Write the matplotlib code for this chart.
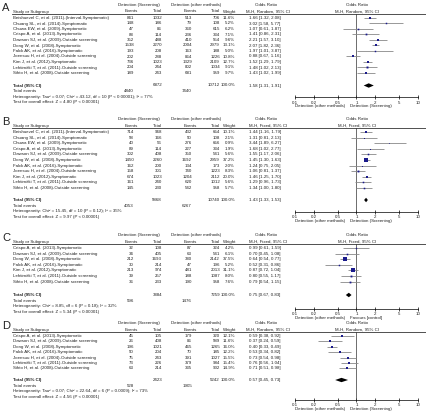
import matplotlib
matplotlib.use('Agg')
import matplotlib.pyplot as plt
import numpy as np

plt.rcParams['font.family'] = ['Liberation Sans', 'DejaVu Sans']

# ---------------- panel A ----------------
a_studies = ["Beishuevel C, et al. (2011)-(Interval.Symptomatic)",
             "Chuang SL, et al. (2014)-Symptomatic",
             "Chuwa EW, et al. (2009)-Symptomatic",
             "Crispo A, et al. (2013)-Symptomatic",
             "Dawson SJ, et al. (2009)-Outside screening",
             "Dong W, et al. (2008)-Symptomatic",
             "Falck AK, et al. (2016)-Symptomatic",
             "Joensuu H, et al. (2004)-Outside screening",
             "Kim J, et al. (2012)-Symptomatic",
             "Lehtimäki T, et al. (2011)-Outside screening",
             "Sihto H, et al. (2008)-Outside screening"]
a_ev_scr = [841, 148, 47, 88, 352, 1538, 193, 202, 736, 204, 189]
a_tot_scr = [1032, 186, 86, 114, 488, 2270, 208, 288, 1023, 244, 243]
a_ev_oth = [513, 79, 360, 236, 410, 2004, 163, 864, 1329, 802, 681]
a_tot_oth = [706, 108, 615, 334, 554, 2979, 188, 1226, 2109, 1034, 959]
a_weight = [11.6, 5.2, 6.2, 7.1, 9.6, 13.1, 5.0, 10.8, 12.7, 9.1, 9.7]
a_or = [1.66, 3.02, 1.07, 1.41, 2.21, 2.07, 1.97, 0.88, 1.52, 1.48, 1.43]
a_lo = [1.32, 1.58, 0.61, 0.86, 1.57, 1.82, 1.01, 0.67, 1.29, 1.02, 1.02]
a_hi = [2.08, 5.77, 1.87, 2.31, 3.10, 2.36, 3.87, 1.16, 1.79, 2.13, 1.99]
a_total = [6872, 10712, 1.58, 1.31, 1.91]
a_events = [4840, 7440]
a_het = "Heterogeneity: Tau² = 0.07; Chi² = 43.12, df = 10 (P < 0.00001); I² = 77%"
a_test = "Test for overall effect: Z = 4.80 (P < 0.00001)"

# ---------------- panel B ----------------
b_studies = a_studies
b_ev_scr = [714, 58, 40, 89, 302, 1450, 162, 158, 674, 161, 145]
b_tot_scr = [968, 166, 56, 114, 408, 2260, 200, 301, 1023, 240, 230]
b_ev_oth = [432, 50, 276, 227, 350, 1692, 134, 740, 1204, 620, 542]
b_tot_oth = [654, 108, 656, 334, 541, 2959, 173, 1223, 2112, 1012, 958]
b_weight = [10.1, 2.1, 0.9, 1.9, 5.6, 37.2, 2.0, 8.3, 20.0, 5.6, 5.7]
b_or = [1.44, 1.31, 3.44, 1.68, 1.55, 1.45, 1.24, 1.06, 1.46, 1.29, 1.34]
b_lo = [1.16, 0.81, 1.89, 1.02, 1.17, 1.30, 0.75, 0.81, 1.25, 0.96, 1.00]
b_hi = [1.79, 2.13, 6.27, 2.77, 2.06, 1.63, 2.05, 1.37, 1.70, 1.73, 1.80]
b_total = [5868, 10740, 1.43, 1.33, 1.53]
b_events = [4053, 6267]
b_het = "Heterogeneity: Chi² = 15.45, df = 10 (P = 0.12); I² = 35%"
b_test = "Test for overall effect: Z = 9.97 (P < 0.00001)"

# ---------------- panel C ----------------
c_studies = ["Crispo A, et al. (2013)-Symptomatic",
             "Dawson SJ, et al. (2009)-Outside screening",
             "Dong W, et al. (2008)-Symptomatic",
             "Falck AK, et al. (2016)-Symptomatic",
             "Kim J, et al. (2012)-Symptomatic",
             "Lehtimäki T, et al. (2011)-Outside screening",
             "Sihto H, et al. (2008)-Outside screening"]
c_ev_scr = [32, 34, 212, 30, 213, 39, 36]
c_tot_scr = [108, 405, 1693, 214, 974, 257, 233]
c_ev_oth = [87, 63, 380, 47, 481, 188, 190]
c_tot_oth = [324, 541, 2142, 196, 2013, 1087, 958]
c_weight = [4.2, 6.1, 37.5, 5.2, 31.1, 8.0, 7.6]
c_or = [0.99, 0.70, 0.64, 0.52, 0.87, 0.80, 0.79]
c_lo = [0.61, 0.45, 0.54, 0.31, 0.72, 0.55, 0.54]
c_hi = [1.59, 1.08, 0.77, 0.86, 1.04, 1.17, 1.15]
c_total = [3884, 7259, 0.75, 0.67, 0.83]
c_events = [596, 1476]
c_het = "Heterogeneity: Chi² = 8.85, df = 6 (P = 0.18); I² = 32%"
c_test = "Test for overall effect: Z = 5.34 (P < 0.00001)"

# ---------------- panel D ----------------
d_studies = ["Crispo A, et al. (2013)-Symptomatic",
             "Dawson SJ, et al. (2009)-Outside screening",
             "Dong W, et al. (2008)-Symptomatic",
             "Falck AK, et al. (2016)-Symptomatic",
             "Joensuu H, et al. (2004)-Outside screening",
             "Lehtimäki T, et al. (2011)-Outside screening",
             "Sihto H, et al. (2008)-Outside screening"]
d_ev_scr = [45, 26, 196, 50, 75, 73, 63]
d_tot_scr = [105, 408, 1021, 204, 243, 226, 214]
d_ev_oth = [179, 86, 465, 70, 391, 379, 335]
d_tot_oth = [320, 589, 1265, 185, 1027, 984, 902]
d_weight = [12.1, 11.6, 16.0, 12.2, 15.5, 15.4, 14.9]
d_or = [0.59, 0.37, 0.40, 0.53, 0.73, 0.76, 0.71]
d_lo = [0.38, 0.24, 0.33, 0.34, 0.54, 0.56, 0.51]
d_hi = [0.92, 0.59, 0.49, 0.82, 0.98, 1.04, 0.98]
d_total = [2423, 5242, 0.57, 0.45, 0.73]
d_events = [528, 1905]
d_het = "Heterogeneity: Tau² = 0.07; Chi² = 22.64, df = 6 (P = 0.0009); I² = 73%"
d_test = "Test for overall effect: Z = 4.56 (P < 0.00001)"

ticks = [0.1, 0.2, 0.5, 1, 2, 5, 10]
tick_labels = ['0.1', '0.2', '0.5', '1', '2', '5', '10']

panels = [
    ('A', a_studies, a_ev_scr, a_tot_scr, a_ev_oth, a_tot_oth, a_weight, a_or, a_lo, a_hi,
     a_total, a_events, a_het, a_test, 'M-H, Random, 95% CI', 'Detection (Screening)'),
    ('B', b_studies, b_ev_scr, b_tot_scr, b_ev_oth, b_tot_oth, b_weight, b_or, b_lo, b_hi,
     b_total, b_events, b_het, b_test, 'M-H, Fixed, 95% CI', 'Detection (Screening)'),
    ('C', c_studies, c_ev_scr, c_tot_scr, c_ev_oth, c_tot_oth, c_weight, c_or, c_lo, c_hi,
     c_total, c_events, c_het, c_test, 'M-H, Fixed, 95% CI', 'Favours [control]'),
    ('D', d_studies, d_ev_scr, d_tot_scr, d_ev_oth, d_tot_oth, d_weight, d_or, d_lo, d_hi,
     d_total, d_events, d_het, d_test, 'M-H, Random, 95% CI', 'Detection (Screening)'),
]

# layout in pixels: header y, first row y, row step, total row y, axis y
layout = [(5, 18, 5.5, 85.5, 97.5),
          (119, 132, 5.6, 200, 212),
          (235, 248, 5.6, 295, 309),
          (323, 336, 5.4, 380, 400)]

W, H = 427, 419
fig = plt.figure(figsize=(W / 100, H / 100), dpi=100)
bg = fig.add_axes([0, 0, 1, 1])
bg.set_xlim(0, W)
bg.set_ylim(H, 0)
bg.axis('off')

FS = 3.15
TXT = '#222222'
X0, X1 = 295, 418  # pixel span of 0.1 .. 10


def txt(x, y, s, ha='left', bold=False, size=FS):
    bg.text(x, y, s, ha=ha, va='center', fontsize=size, color=TXT,
            fontweight='bold' if bold else 'normal')


for p, lay in zip(panels, layout):
    (letter, studies, ev1, tot1, ev2, tot2, wt, orr, lo, hi,
     total, events, het, test, method, right_lab) = p
    head, row0, dy, tot_y, ax_y = lay
    line_y = head + 9

    txt(2, head + 3, letter, size=8)
    txt(139, head, 'Detection (Screening)', ha='center')
    txt(196, head, 'Detection (other methods)', ha='center')
    txt(266, head, 'Odds Ratio', ha='center')
    txt(357, head, 'Odds Ratio', ha='center')
    sub = head + 6.5
    txt(13, sub, 'Study or Subgroup')
    txt(138, sub, 'Events', ha='right')
    txt(162, sub, 'Total', ha='right')
    txt(197, sub, 'Events', ha='right')
    txt(220, sub, 'Total', ha='right')
    txt(236, sub, 'Weight', ha='right')
    txt(268, sub, method, ha='center')
    txt(357, sub, method, ha='center')
    bg.plot([12, W], [line_y, line_y], color='#333333', lw=0.6)

    for i, name in enumerate(studies):
        y = row0 + i * dy
        txt(13, y, name)
        txt(134, y, str(ev1[i]), ha='right')
        txt(162, y, str(tot1[i]), ha='right')
        txt(192, y, str(ev2[i]), ha='right')
        txt(220, y, str(tot2[i]), ha='right')
        txt(235, y, '%.1f%%' % wt[i], ha='right')
        txt(249, y, '%.2f [%.2f, %.2f]' % (orr[i], lo[i], hi[i]))

    txt(13, tot_y, 'Total (95% CI)', bold=True)
    txt(162, tot_y, str(total[0]), ha='right')
    txt(220, tot_y, str(total[1]), ha='right')
    txt(235, tot_y, '100.0%', ha='right')
    txt(249, tot_y, '%.2f [%.2f, %.2f]' % (total[2], total[3], total[4]))
    txt(13, tot_y + 5.5, 'Total events')
    txt(134, tot_y + 5.5, str(events[0]), ha='right')
    txt(192, tot_y + 5.5, str(events[1]), ha='right')
    txt(13, tot_y + 11, het)
    txt(13, tot_y + 16.5, test)

    # forest plot on a log axis
    ax = fig.add_axes([X0 / W, 1 - ax_y / H, (X1 - X0) / W, (ax_y - line_y) / H])
    ax.set_xscale('log')
    ax.set_xlim(0.1, 10)
    ax.set_ylim((ax_y - row0) / dy, (line_y - row0) / dy)
    ax.patch.set_alpha(0)
    for s in ['top', 'left', 'right']:
        ax.spines[s].set_visible(False)
    ax.spines['bottom'].set_linewidth(0.5)
    ax.set_yticks([])
    ax.set_xticks(ticks)
    ax.set_xticklabels(tick_labels, fontsize=FS, color=TXT)
    ax.minorticks_off()
    ax.tick_params(axis='x', direction='inout', length=3, width=0.5, pad=1)
    ax.axvline(1, color='#333333', lw=0.5)

    idx = np.arange(len(studies))
    ax.hlines(idx, lo, hi, color='#888888', lw=0.6)
    for i in idx:
        ax.plot(orr[i], i, marker='s', color='#1a1a8c', ms=0.47 * np.sqrt(wt[i]), mew=0)
    ty = (tot_y - row0) / dy
    ax.fill([total[3], total[2], total[4], total[2]], [ty, ty - 0.4, ty, ty + 0.4],
            color='black', lw=0)

    txt(345, ax_y + 8.5, 'Detection (other methods)', ha='right')
    txt(350, ax_y + 8.5, right_lab)

fig.savefig('out.png', dpi=100)
